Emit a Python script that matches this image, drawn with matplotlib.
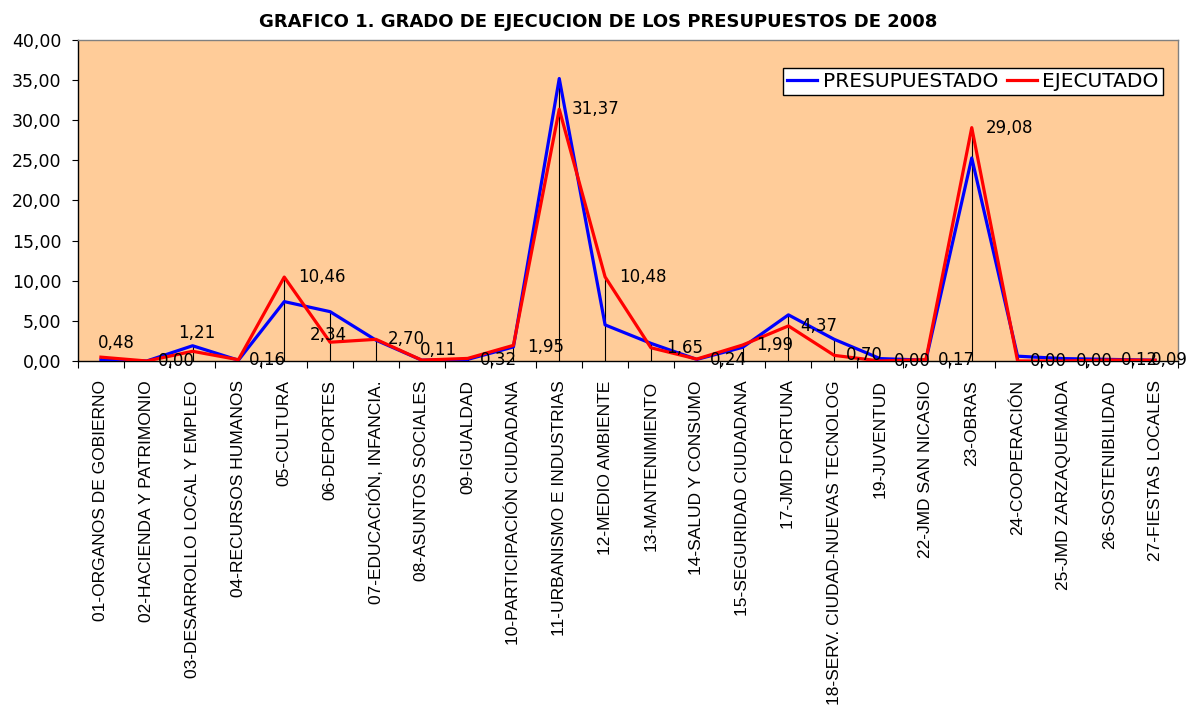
import matplotlib
matplotlib.use("Agg")
import matplotlib.pyplot as plt
import numpy as np

plt.rcParams['font.family'] = ['DejaVu Sans']

categories = [
    "01-ORGANOS DE GOBIERNO", "02-HACIENDA Y PATRIMONIO", "03-DESARROLLO LOCAL Y EMPLEO",
    "04-RECURSOS HUMANOS", "05-CULTURA", "06-DEPORTES", "07-EDUCACIÓN, INFANCIA.",
    "08-ASUNTOS SOCIALES", "09-IGUALDAD", "10-PARTICIPACIÓN CIUDADANA",
    "11-URBANISMO E INDUSTRIAS", "12-MEDIO AMBIENTE", "13-MANTENIMIENTO",
    "14-SALUD Y CONSUMO", "15-SEGURIDAD CIUDADANA", "17-JMD FORTUNA",
    "18-SERV. CIUDAD-NUEVAS TECNOLOG", "19-JUVENTUD", "22-JMD SAN NICASIO",
    "23-OBRAS", "24-COOPERACIÓN", "25-JMD ZARZAQUEMADA", "26-SOSTENIBILIDAD",
    "27-FIESTAS LOCALES",
]
presupuestado = [0.15, 0.00, 1.90, 0.10, 7.40, 6.15, 2.60, 0.10, 0.20, 1.75,
                 35.20, 4.50, 2.20, 0.20, 1.70, 5.75, 2.70, 0.30, 0.10,
                 25.30, 0.60, 0.30, 0.20, 0.10]
ejecutado = [0.48, 0.00, 1.21, 0.16, 10.46, 2.34, 2.70, 0.11, 0.32, 1.95,
             31.37, 10.48, 1.65, 0.24, 1.99, 4.37, 0.70, 0.00, 0.17,
             29.08, 0.00, 0.00, 0.12, 0.09]
# label offsets (points) relative to each EJECUTADO point
label_dx = [11, 21, 3, 21, 27, -1, 22, 12, 22, 23, 26, 27, 24, 23, 23, 22, 22, 23, 22, 27, 22, 22, 22, 10]
label_dy = [10, 0, 13, 0, 0, 5, 0, 7, -1, -1, 0, 0, 0, -1, 0, 0, 0, 0, 0, 0, 0, 0, 0, 0]
title = "GRAFICO 1. GRADO DE EJECUCION DE LOS PRESUPUESTOS DE 2008"

fig = plt.figure(figsize=(11.9, 7.09), dpi=100)
ax = fig.add_axes([78/1190, 1-361/709, 1100/1190, 321/709])
ax.set_facecolor('#FFCC99')

x = np.arange(len(categories))
tops = np.maximum(presupuestado, ejecutado)
ax.vlines(x, 0, tops, color='black', linewidth=0.8, zorder=2)
ax.plot(x, presupuestado, color='#0000FF', linewidth=2.3, label='PRESUPUESTADO', zorder=3)
ax.plot(x, ejecutado, color='#FF0000', linewidth=2.3, label='EJECUTADO', zorder=4)

for xi, v, dx, dy in zip(x, ejecutado, label_dx, label_dy):
    ax.annotate(f"{v:.2f}".replace('.', ','), (xi, v), xytext=(dx, dy),
                textcoords='offset points', ha='center', va='center',
                fontsize=12, color='black', zorder=5, annotation_clip=False)

ax.set_xlim(-0.5, len(categories) - 0.5)
ax.set_ylim(0, 40)
yt = np.arange(0, 45, 5)
ax.set_yticks(yt)
ax.set_yticklabels([f"{v:.2f}".replace('.', ',') for v in yt], fontsize=12.5)
ax.tick_params(axis='y', direction='out', length=4.5, width=0.8, pad=7.5)

ax.set_xticks(x)
ax.set_xticklabels(categories, rotation=90, fontsize=12.5, va='top', ha='center',
                   family='Liberation Sans')
ax.tick_params(axis='x', which='major', length=0, pad=14)
ax.set_xticks(np.arange(-0.5, len(categories), 1), minor=True)
ax.tick_params(axis='x', which='minor', direction='out', length=5, width=0.8)

for s in ['top', 'right']:
    ax.spines[s].set_color('#808080')
    ax.spines[s].set_linewidth(1.0)
for s in ['left', 'bottom']:
    ax.spines[s].set_color('black')
    ax.spines[s].set_linewidth(1.0)

leg = ax.legend(loc='upper right', ncol=2, fontsize=14.5, frameon=True, fancybox=False,
                edgecolor='black', facecolor='white', framealpha=1,
                bbox_to_anchor=(0.986, 0.913), handlelength=1.5, columnspacing=0.45,
                handletextpad=0.25, borderpad=0.2, borderaxespad=0)
leg.get_frame().set_linewidth(1.0)

fig.text(598/1190, 1-22/709, title, ha='center', va='center', fontsize=13, fontweight='bold')

fig.savefig('out.png', dpi=100, facecolor='white')
